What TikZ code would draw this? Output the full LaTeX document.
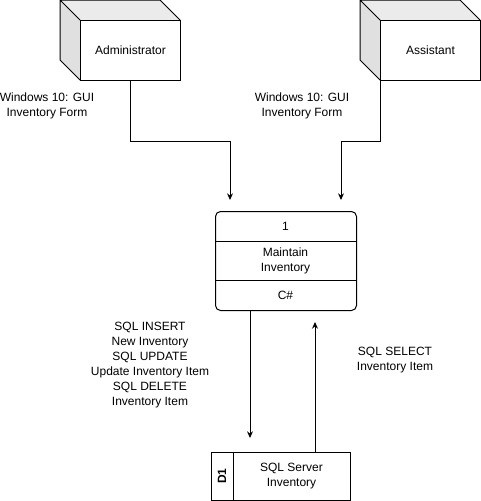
\documentclass[tikz,border=0pt]{standalone}
\usepackage{fontspec}
\setmainfont{Liberation Sans}
\usetikzlibrary{calc,arrows.meta}

\begin{document}
\begin{tikzpicture}[x=0.75pt,y=-0.75pt,line width=0.75pt,
	font=\fontsize{9}{11.25}\selectfont,
	flow/.style={-{Stealth[length=5pt,width=4.5pt]}},
	actor/.style={draw,fill=white,inner sep=0pt,minimum width=75pt,minimum height=45pt,anchor=north west},
	lbl/.style={align=center,inner sep=0pt}]
\useasboundingbox (0,0) rectangle (481,501);

%% Actors (cubes) %%
\foreach \x/\n/\t in {80/admin/Administrator,380/assistant/Assistant}
{
	\fill[black!8] (\x,20) -- ++(-20,-20) -- ++(100,0) -- ++(20,20) -- cycle;
	\fill[black!12] (\x,20) -- ++(-20,-20) -- ++(0,60) -- ++(20,20) -- cycle;
	\draw[line join=round] (\x,20) -- ++(-20,-20) -- ++(100,0) -- ++(20,20)
		(\x,20)++(-20,-20) -- ++(0,60) -- ++(20,20);
	\node[actor] (\n) at (\x,20) {\t};
}

%% Process %%
\node[draw,rounded corners=3.75pt,inner sep=0pt,minimum width=105.75pt,minimum height=74.25pt,anchor=north west] (proc) at (215,211) {};
\draw (proc.west |- 0,241) -- (proc.east |- 0,241)
	(proc.west |- 0,280) -- (proc.east |- 0,280);
\node[lbl] (procid) at (285.5,226) {1};
\node[lbl] (procname) at (285.5,260.5) {Maintain\\Inventory};
\node[lbl] (proctech) at (285.5,295) {C\#};

%% Data store %%
\node[draw,inner sep=0pt,minimum width=104.25pt,minimum height=36pt,anchor=north west] (store) at (211,452) {};
\draw (233,452) -- (233,500);
\node[lbl,rotate=90,font=\fontsize{9}{11.25}\selectfont\bfseries] (storeid) at (222,476) {D1};
\node[lbl] (storename) at (291.5,476) {SQL Server\\Inventory};

%% Flows %%
\coordinate (inL) at (230,200);
\coordinate (inR) at (341,200);
\coordinate (outD) at (250,438);
\coordinate (inU) at (315,322);
\draw[flow] (admin.south) -- ++(0,60) -| (inL);
\draw[flow] (assistant.south west) -- ++(0,60) -| (inR);
\draw[flow] ($(proc.south west)+(35,0)$) -- (outD);
\draw[flow] ($(store.north west)+(104,0)$) -- (inU);

\node[lbl] (guiL) at (47,105.5) {Windows 10: GUI\\Inventory Form};
\node[lbl] (guiR) at (302,105.5) {Windows 10: GUI\\Inventory Form};
\node[lbl] (sqlw) at (150,365.5) {SQL INSERT\\New Inventory\\SQL UPDATE\\Update Inventory Item\\SQL DELETE\\Inventory Item};
\node[lbl] (sqlr) at (395,360) {SQL SELECT\\Inventory Item};
\end{tikzpicture}
\end{document}
